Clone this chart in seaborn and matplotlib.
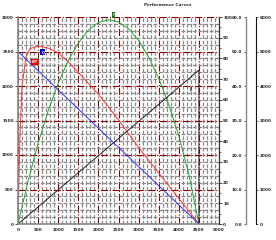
import matplotlib
matplotlib.use("Agg")
import matplotlib.pyplot as plt
from matplotlib.ticker import AutoMinorLocator, FormatStrFormatter
import seaborn as sns

# ---- data ----
x_ticks = [0, 500, 1000, 1500, 2000, 2500, 3000, 3500, 4000, 4500, 5000]
y_ticks = [0, 500, 1000, 1500, 2000, 2500, 3000]

head_x = [0, 25, 50, 100, 200, 300, 500, 750, 1000, 1250, 1500, 2000, 2500, 3000, 3500, 4000, 4500]
head_y = [0, 700, 1300, 2000, 2420, 2540, 2580, 2550, 2480, 2350, 2200, 1880, 1510, 1110, 740, 370, 0]

blue_x = [0, 4500]
blue_y = [2500, 0]

green_x = [0, 250, 500, 750, 1000, 1250, 1500, 1750, 2000, 2250, 2500, 2750, 3000, 3250, 3500, 3750, 4000, 4250, 4500]
green_y = [0, 620, 1170, 1640, 2040, 2370, 2620, 2810, 2920, 2960, 2930, 2830, 2660, 2420, 2110, 1730, 1280, 720, 0]

black_x = [0, 4500, 4500]
black_y = [0, 2230, 0]

right1_ticks = [0, 10, 20, 30, 40, 50, 60, 70, 80, 90, 100]
right2_ticks = [0, 10, 20, 30, 40, 50, 60]
right3_ticks = [0, 1000, 2000, 3000, 4000, 5000, 6000]

title = "Performance Curves"

# ---- figure ----
sns.set_style("white")
plt.rcParams['font.family'] = ['DejaVu Sans']
plt.rcParams['font.weight'] = 'bold'
fig = plt.figure(figsize=(2.76, 2.40), dpi=100)
L, B, W, H = 18/276, 16/240, 201/276, 207/240
ax = fig.add_axes([L, B, W, H])

fs = 3
sns.lineplot(x=head_x, y=head_y, ax=ax, color="#ff3333", lw=0.7, sort=False, estimator=None)
sns.lineplot(x=blue_x, y=blue_y, ax=ax, color="#3333ff", lw=0.7, sort=False, estimator=None)
sns.lineplot(x=green_x, y=green_y, ax=ax, color="#22aa33", lw=0.7, sort=False, estimator=None)
sns.lineplot(x=black_x, y=black_y, ax=ax, color="#222222", lw=0.7, sort=False, estimator=None)

ax.set_xlim(0, 5000)
ax.set_ylim(0, 3000)
ax.set_xticks(x_ticks)
ax.set_yticks(y_ticks)
ax.xaxis.set_minor_locator(AutoMinorLocator(5))
ax.yaxis.set_minor_locator(AutoMinorLocator(5))
ax.grid(which="minor", color="#8a8a8a", ls="--", lw=0.9, dashes=(3, 1.5))
ax.grid(which="major", color="#8b0000", ls="-.", lw=0.8)
ax.set_axisbelow(True)
ax.tick_params(axis="both", which="major", labelsize=fs, length=2, width=0.6, pad=1)
ax.tick_params(axis="both", which="minor", length=0)
for s in ["left", "bottom"]:
    ax.spines[s].set_color("#888888")
    ax.spines[s].set_linewidth(1.2)
ax.spines["top"].set_visible(False)
ax.spines["right"].set_color("#333333")
ax.set_xlabel("")
ax.set_ylabel("")

# labels on curves
ax.text(430, 2345, "BEP", fontsize=2.2, color="white", ha="center", va="center", zorder=6,
        bbox=dict(boxstyle="square,pad=0.3", fc="#ee0000", ec="none"))
ax.text(620, 2490, "Q", fontsize=2.5, color="white", ha="center", va="center", zorder=7,
        bbox=dict(boxstyle="square,pad=0.3", fc="#0000cc", ec="none"))
ax.text(2375, 3030, "P", fontsize=2, color="white", ha="center", va="center", zorder=6,
        bbox=dict(boxstyle="square,pad=0.25", fc="#117711", ec="none"))
ax.text(4300, 1950, "I", fontsize=4, color="black", ha="center", va="center", fontweight="bold")

# right axis 1
ax1 = ax.twinx()
ax1.set_ylim(0, 100)
ax1.set_yticks(right1_ticks)
ax1.yaxis.set_minor_locator(AutoMinorLocator(2))
ax1.tick_params(axis="y", which="major", labelsize=fs, length=2, width=0.6, pad=1)
ax1.tick_params(axis="y", which="minor", length=1.2, width=0.5, color="#990000")
for s in ["left", "top", "bottom"]:
    ax1.spines[s].set_visible(False)
ax1.spines["right"].set_color("#333333")

# right axis 2 (labels on the left of its spine)
ax2 = ax.twinx()
ax2.set_ylim(0, 60)
ax2.set_yticks(right2_ticks)
ax2.yaxis.set_major_formatter(FormatStrFormatter("%.1f"))
ax2.spines["left"].set_position(("axes", (246-18)/201))
ax2.spines["left"].set_visible(True)
ax2.spines["left"].set_color("#888888")
ax2.spines["left"].set_linewidth(1.0)
ax2.yaxis.set_ticks_position("left")
ax2.yaxis.set_label_position("left")
for s in ["right", "top", "bottom"]:
    ax2.spines[s].set_visible(False)
ax2.tick_params(axis="y", labelsize=fs, length=1.5, width=0.5, pad=1)

# right axis 3
ax3 = ax.twinx()
ax3.set_ylim(0, 6000)
ax3.set_yticks(right3_ticks)
ax3.spines["right"].set_position(("axes", (256-18)/201))
ax3.spines["right"].set_color("#111111")
ax3.spines["right"].set_linewidth(0.8)
for s in ["left", "top", "bottom"]:
    ax3.spines[s].set_visible(False)
ax3.tick_params(axis="y", labelsize=fs, length=1.5, width=0.5, pad=1)

fig.text(168/276, 1 - 5/240, title, fontsize=3, ha="center", va="center", fontweight="bold")

fig.savefig("out.png", dpi=100)
